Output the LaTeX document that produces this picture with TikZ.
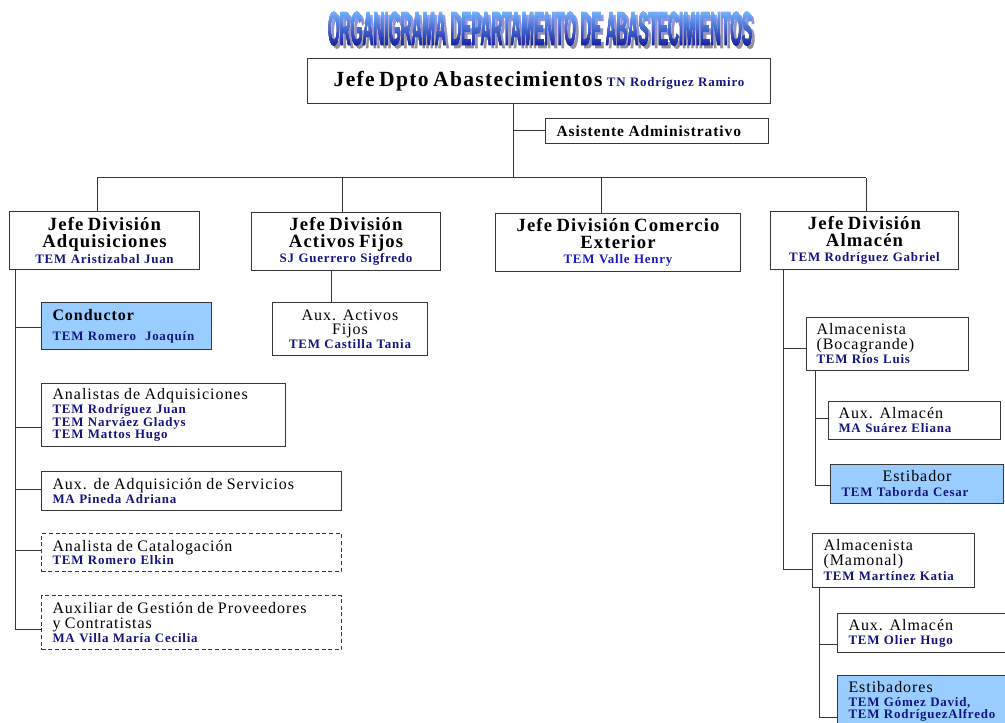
\documentclass[tikz,border=0pt]{standalone}
\usepackage{fontspec}
\usepackage{graphicx}
\setmainfont{Liberation Serif}[LetterSpace=6]
\newfontfamily\ttlfont{Liberation Sans Bold}[FakeBold=2]
\definecolor{namecol}{RGB}{20,20,128}
\definecolor{namebright}{RGB}{25,25,200}
\definecolor{lightblue}{RGB}{153,204,255}
\definecolor{linecol}{RGB}{55,55,55}
\definecolor{tlight}{RGB}{120,185,255}
\definecolor{tmid}{RGB}{40,95,235}
\definecolor{tdark}{RGB}{20,30,160}
\definecolor{tshadow}{RGB}{145,145,145}
\lineskiplimit=-100pt
\newcommand\orgtitle{\scalebox{0.32}[1]{\ttlfont\fontsize{35.6}{36}\selectfont ORGANIGRAMA DEPARTAMENTO DE ABASTECIMIENTOS}}
\newcommand\divl[1]{{\fontsize{14}{12.75}\selectfont\bfseries #1\par}}
\newcommand\subl[2][10.5]{{\fontsize{12}{#1}\selectfont #2\par}}
\newcommand\pname[2][11.5]{{\fontsize{9.7}{#1}\selectfont\bfseries\leavevmode\color{namecol}#2\par}}
\newcommand\pnameb[2][11.5]{{\fontsize{9.7}{#1}\selectfont\bfseries\leavevmode\color{namebright}#2\par}}
\begin{document}
\begin{tikzpicture}[x=0.75pt,y=-0.75pt,
  orgbox/.style={draw=linecol, line width=0.75pt, rectangle, anchor=north west, inner ysep=0pt, font={\lineskiplimit=-100pt\relax}},
  bx/.style n args={3}{minimum width={#1*0.75pt}, minimum height={#2*0.75pt}, inner xsep={#3*0.75pt}, text width={(#1-2*#3)*0.75pt}},
  dashbox/.style={dash pattern=on 3pt off 2pt},
  fillbox/.style={fill=lightblue},
  conn/.style={draw=linecol, line width=0.75pt},
  ttl/.style={anchor=base, inner sep=0pt}]
\clip (0,0) rectangle (1005,723);
\fill[white] (0,0) rectangle (1005,723);

% title: shadow, black text, then a gradient laid over it in "lighten" mode
\node[ttl, text=tshadow] (titleshadow) at (543,48) {\orgtitle};
\node[ttl, text=black] (title) at (540,45) {\orgtitle};
\begin{scope}[blend mode=lighten]
  \fill[top color=tlight, middle color=tmid, bottom color=tdark] (318,10) rectangle (765,46);
\end{scope}

% boxes
\node[orgbox, bx={463}{45}{4}, align=center] (top) at (307,58)
  {{\fontsize{16.2}{16.5}\selectfont\bfseries Jefe Dpto Abastecimientos}\ {\fontsize{9.7}{10}\selectfont\bfseries\color{namecol}TN Rodríguez Ramiro}};
\node[orgbox, bx={223}{25}{11}, align=left] (asis) at (545,118)
  {{\fontsize{11.6}{12}\selectfont\bfseries Asistente Administrativo}};

\node[orgbox, bx={190}{58}{2}, align=center] (adq) at (9,211)
  {\divl{Jefe División}\divl{Adquisiciones}\pname{TEM Aristizabal Juan}};
\node[orgbox, bx={189}{58}{2}, align=center] (actf) at (251,212)
  {\divl{Jefe División}\divl{Activos Fijos}\pname{SJ Guerrero Sigfredo}};
\node[orgbox, bx={245}{58}{2}, align=center] (comx) at (495,213)
  {\divl{Jefe División Comercio}\divl{Exterior}\pnameb{TEM Valle Henry}};
\node[orgbox, bx={188}{58}{2}, align=center] (almd) at (770,211)
  {\divl{Jefe División}\divl{Almacén}\pname{TEM Rodríguez Gabriel}};

\node[orgbox, fillbox, bx={170}{47}{11}, align=left] (cond) at (41,302)
  {{\fontsize{12}{12}\selectfont\bfseries Conductor\par}\pname[15]{TEM Romero\ \ Joaquín}};
\node[orgbox, bx={244}{63}{11}, align=left] (anal) at (41,383)
  {\subl{Analistas de Adquisiciones}\pname[10.5]{TEM Rodríguez Juan}\pname[9.4]{TEM Narváez Gladys}\pname[9.4]{TEM Mattos Hugo}};
\node[orgbox, bx={300}{39}{11}, align=left] (auxadq) at (41,471)
  {\subl{Aux. de Adquisición de Servicios}\pname[10.5]{MA Pineda Adriana}};
\node[orgbox, dashbox, bx={300}{38}{11}, align=left] (acat) at (41,533)
  {\subl{Analista de Catalogación}\pname[9.75]{TEM Romero Elkin}};
\node[orgbox, dashbox, bx={300}{54}{11}, align=left] (agest) at (41,595)
  {\subl{Auxiliar de Gestión de Proveedores}\subl[11.25]{y Contratistas}\pname[10.5]{MA Villa María Cecilia}};

\node[orgbox, bx={155}{53}{4}, align=center] (auxaf) at (272,302)
  {\subl{Aux. Activos}\subl[10.5]{Fijos}\pname[10.5]{TEM Castilla Tania}};

\node[orgbox, bx={162}{53}{10}, align=left] (boc) at (806,317)
  {\subl{Almacenista}\subl[11.25]{(Bocagrande)}\pname[10.5]{TEM Ríos Luis}};
\node[orgbox, bx={172}{38}{10}, align=left] (aalm1) at (828,401)
  {\subl{Aux. Almacén}\pname[10.5]{MA Suárez Eliana}};
\node[orgbox, fillbox, bx={173}{39}{11}, align=left] (estb1) at (830,464)
  {{\centering\fontsize{12}{10.5}\selectfont Estibador\par}\pname[11.25]{TEM Taborda Cesar}};
\node[orgbox, bx={162}{54}{11}, align=left] (mam) at (812,533)
  {\subl{Almacenista}\subl[11.25]{(Mamonal)}\pname[11.25]{TEM Martínez Katia}};
\node[orgbox, bx={185}{39}{11}, align=left] (aalm2) at (837,613)
  {\subl{Aux. Almacén}\pname[10.5]{TEM Olier Hugo}};
\node[orgbox, fillbox, bx={185}{52}{11}, align=left] (estb2) at (837,675)
  {\subl{Estibadores}\pname[10.5]{TEM Gómez David,}\pname[9.4]{TEM RodríguezAlfredo}};

% connectors: top
\coordinate (jTop) at (513,178);
\draw[conn] (top.south -| jTop) -- (jTop);
\draw[conn] (asis.west -| jTop) -- (asis.west);
\coordinate (bA) at (97,178);
\coordinate (bB) at (342,178);
\coordinate (bC) at (601,178);
\coordinate (bD) at (866,178);
\draw[conn] (bA) -- (bD);
\draw[conn] (bA) -- (bA |- adq.north);
\draw[conn] (bB) -- (bB |- actf.north);
\draw[conn] (bC) -- (bC |- comx.north);
\draw[conn] (bD) -- (bD |- almd.north);

% Adquisiciones column
\coordinate (jCond) at (15,327);
\coordinate (jAna) at (15,427);
\coordinate (jAux) at (15,489);
\coordinate (jCat) at (15,550);
\coordinate (jGest) at (15,629);
\draw[conn] (adq.south -| jGest) -- (jGest) -- (jGest -| agest.west);
\draw[conn] (jCond) -- (jCond -| cond.west);
\draw[conn] (jAna) -- (jAna -| anal.west);
\draw[conn] (jAux) -- (jAux -| auxadq.west);
\draw[conn] (jCat) -- (jCat -| acat.west);

% Activos Fijos
\coordinate (jAf) at (331,290);
\draw[conn] (jAf |- actf.south) -- (jAf |- auxaf.north);

% Almacen column
\coordinate (jBoc) at (783,348);
\coordinate (jMam) at (783,569);
\draw[conn] (almd.south -| jMam) -- (jMam) -- (jMam -| mam.west);
\draw[conn] (jBoc) -- (jBoc -| boc.west);
\coordinate (jA1) at (815,418);
\coordinate (jE1) at (815,485);
\draw[conn] (boc.south -| jE1) -- (jE1) -- (jE1 -| estb1.west);
\draw[conn] (jA1) -- (jA1 -| aalm1.west);
\coordinate (jA2) at (819,644);
\coordinate (jE2) at (819,717);
\draw[conn] (mam.south -| jE2) -- (jE2) -- (jE2 -| estb2.west);
\draw[conn] (jA2) -- (jA2 -| aalm2.west);
\end{tikzpicture}
\end{document}
